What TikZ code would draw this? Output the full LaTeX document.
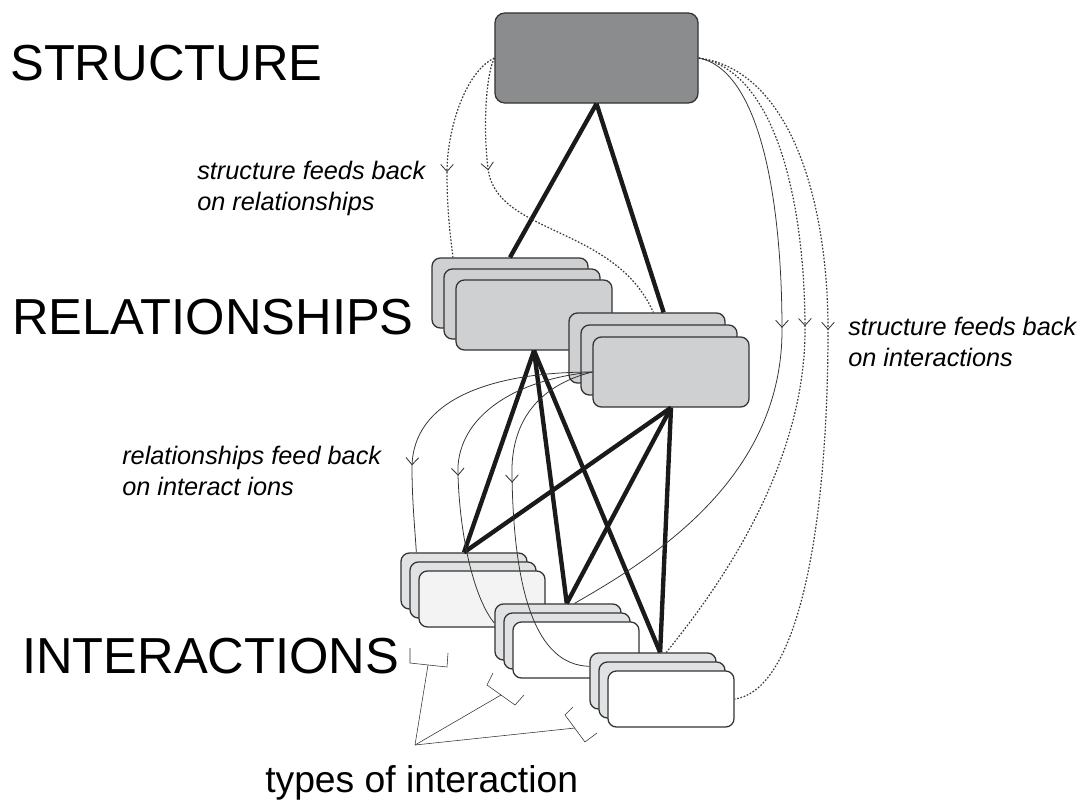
\documentclass[tikz,border=0pt]{standalone}
\usepackage{fontspec}
\setmainfont{Liberation Sans}
\usepackage{tikz}
\usetikzlibrary{positioning, arrows.meta, decorations.markings}
\definecolor{structgray}{HTML}{8B8C8E}
\definecolor{relgray}{HTML}{CFD0D2}
\definecolor{intback}{HTML}{E1E2E4}
\definecolor{intlight}{HTML}{F3F3F3}
\definecolor{edgegray}{HTML}{333333}
\definecolor{tieblack}{HTML}{1A1A1A}
\definecolor{dotgray}{HTML}{3A3A3A}
\tikzstyle{struct} = [rectangle, draw=edgegray, fill=structgray, line width=0.9pt,
    rounded corners=7pt, minimum width=5.075cm, minimum height=2.25cm]
\tikzstyle{rel} = [rectangle, draw=edgegray, fill=relgray, line width=0.9pt,
    rounded corners=6pt, minimum width=3.9cm, minimum height=1.75cm, inner sep=0pt]
\tikzstyle{inter} = [rectangle, draw=edgegray, fill=intback, line width=0.9pt,
    rounded corners=6pt, minimum width=3.15cm, minimum height=1.4cm, inner sep=0pt]
\tikzstyle{tie} = [draw=tieblack, line width=3.1pt]
\tikzstyle{feedback} = [draw=edgegray, line width=0.55pt]
\tikzstyle{dotfeed} = [draw=dotgray, dash pattern=on 1.2pt off 1.2pt, line width=0.85pt]
\tikzstyle{tiername} = [font=\fontsize{36}{43}\selectfont, inner sep=0pt, anchor=base west]
\tikzstyle{fbnote} = [font=\itshape\fontsize{18}{22}\selectfont, align=left,
    inner sep=0pt, anchor=base west]
\tikzset{tipat/.style={postaction={decorate}, decoration={markings,
    mark=at position #1 with {\arrow[line width=0.6pt]{Straight Barb[length=5pt, width=9pt]}}}}}

\begin{document}
\begin{tikzpicture}[x=0.025cm, y=-0.025cm]
	\useasboundingbox (0,0) rectangle (1083,801);
	% levels
	\node [struct] (Structure) at (596.5,58) {};
	\node [rel] (Rel1_back) at (510,293) {};
	\node [rel, xshift=0.3cm, yshift=-0.275cm] (Rel1_mid) at (Rel1_back) {};
	\node [rel, xshift=0.3cm, yshift=-0.275cm] (Rel1_front) at (Rel1_mid) {};
	\node [rel] (Rel2_back) at (647,348) {};
	\node [rel, xshift=0.3cm, yshift=-0.3cm] (Rel2_mid) at (Rel2_back) {};
	\node [rel, xshift=0.3cm, yshift=-0.3cm] (Rel2_front) at (Rel2_mid) {};
	\node [inter] (Int1_back) at (464,581) {};
	\node [inter, xshift=0.225cm, yshift=-0.225cm] (Int1_mid) at (Int1_back) {};
	\node [inter, fill=intlight, xshift=0.225cm, yshift=-0.225cm] (Int1_front) at (Int1_mid) {};
	\node [inter] (Int2_back) at (558,632) {};
	\node [inter, xshift=0.225cm, yshift=-0.225cm] (Int2_mid) at (Int2_back) {};
	\node [inter, fill=white, xshift=0.225cm, yshift=-0.225cm] (Int2_front) at (Int2_mid) {};
	\node [inter] (Int3_back) at (653,681) {};
	\node [inter, xshift=0.225cm, yshift=-0.225cm] (Int3_mid) at (Int3_back) {};
	\node [inter, fill=white, xshift=0.225cm, yshift=-0.225cm] (Int3_front) at (Int3_mid) {};
	% ties
	\path [tie] (Structure.south) -- (Rel1_back.north);
	\path [tie] (Structure.south) -- (Rel2_back.65);
	\path [tie] (Rel1_front.south) -- (Int1_back.north);
	\path [tie] (Rel1_front.south) -- (Int2_back.73);
	\path [tie] (Rel1_front.south) -- (Int3_back.76);
	\path [tie] (Rel2_front.south) -- (Int1_back.north);
	\path [tie] (Rel2_front.south) -- (Int2_back.73);
	\path [tie] (Rel2_front.south) -- (Int3_back.76);
	% structure feeds back
	\path [dotfeed, tipat=0.6] (Structure.west) .. controls (465,72) and (447,130)
		.. (447,172) .. controls (447,215) and (451,240) .. (Rel1_back.148);
	\path [dotfeed, tipat=0.335] (Structure.west) .. controls (484,80) and (484,140)
		.. (488,168) .. controls (495,235) and (615,225) .. (Rel2_back.80);
	\path [feedback, tipat=0.45] (Structure.east) .. controls (760,70) and (782,200)
		.. (782,330) .. controls (782,480) and (650,560) .. (Int2_back.60);
	\path [dotfeed, tipat=0.46] (Structure.east) .. controls (775,70) and (805,200)
		.. (805,330) .. controls (805,480) and (700,610) .. (Int3_back.65);
	\path [dotfeed, tipat=0.45] (Structure.east) .. controls (790,70) and (828,200)
		.. (828,330) .. controls (828,520) and (800,690) .. (Int3_front.east);
	% relationships feed back
	\path [feedback, tipat=0.72] (Rel2_front.west) .. controls (490,372) and (412,400)
		.. (412,468) .. controls (412,500) and (415,530) .. (Int1_back.149);
	\path [feedback, tipat=0.55] (Rel2_front.west) .. controls (510,380) and (455,420)
		.. (458,475) .. controls (460,540) and (475,600) .. (Int2_back.172);
	\path [feedback, tipat=0.41] (Rel2_front.west) .. controls (540,385) and (510,420)
		.. (512,477) .. controls (514,590) and (535,665) .. (Int3_back.167);
	% labels
	\node [tiername] (Structure_lbl) at (10,81) {STRUCTURE};
	\node [tiername] (Rel_lbl) at (12,334) {RELATIONSHIPS};
	\node [tiername] (Int_lbl) at (22,673) {INTERACTIONS};
	\node [fbnote] (Note_rel) at (197,210) {structure feeds back\\on relationships};
	\node [fbnote] (Note_int) at (848,366) {structure feeds back\\on interactions};
	\node [fbnote] (Note_relint) at (122,495) {relationships feed back\\on interact ions};
	\node [tiername, font=\fontsize{26.5}{32}\selectfont] (Types) at (265,792)
		{types of interaction};
	% types of interaction
	\coordinate (Types_apex) at (415,745);
	\draw [edgegray, thin] (410,648) -- (410,663) -- (447,667) -- (448,653);
	\draw [edgegray, thin] (493,673) -- (487,685) -- (515,705) -- (524,695);
	\draw [edgegray, thin] (573,707) -- (565,715) -- (585,742) -- (597,733);
	\draw [edgegray, thin] (Types_apex) -- (428,665);
	\draw [edgegray, thin] (Types_apex) -- (501,695);
	\draw [edgegray, thin] (Types_apex) -- (575,728);
\end{tikzpicture}
\end{document}
